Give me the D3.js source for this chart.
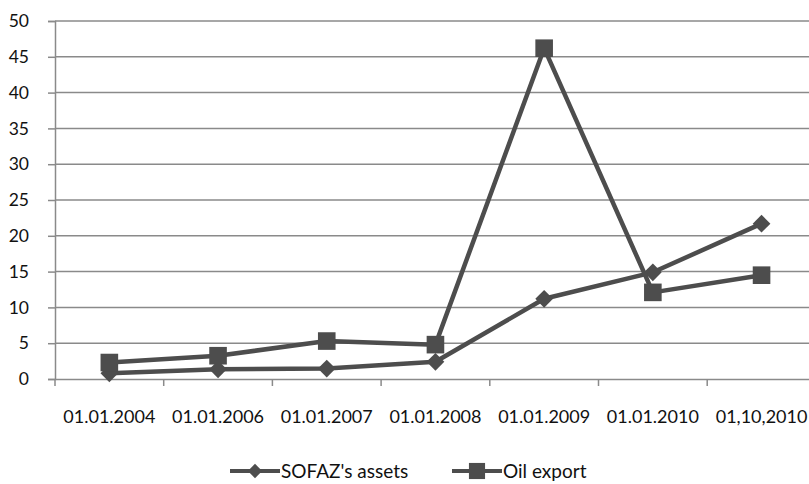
<!DOCTYPE html>
<html><head><meta charset="utf-8">
<script src="https://cdn.jsdelivr.net/npm/d3@7"></script>
<style>body{margin:0;background:#fff}svg{display:block}text{font-family:Lato,"Open Sans",sans-serif;fill:#111}</style>
</head><body><svg id="c" width="809" height="484"></svg>
<script>
const categories = ["01.01.2004","01.01.2006","01.01.2007","01.01.2008","01.01.2009","01.01.2010","01,10,2010"];
const sofazAssets = [0.8, 1.35, 1.45, 2.4, 11.2, 14.9, 21.7];
const oilExport = [2.3, 3.25, 5.3, 4.8, 46.2, 12.1, 14.5];
const yTicks = [0,5,10,15,20,25,30,35,40,45,50];
const seriesNames = ["SOFAZ's assets","Oil export"];

const svg = d3.select("#c");
const mLeft = 55, mTop = 21, mBottom = 379, bandW = 108.7;
const x = d3.scaleBand().domain(categories).range([mLeft, mLeft + bandW*categories.length]);
const y = d3.scaleLinear().domain([0,50]).range([mBottom, mTop]);
const col = "#4d4d4d", grid = "#8a8a8a";

// gridlines
svg.append("g").selectAll("line").data(yTicks.filter(d=>d>0)).join("line")
  .attr("x1", mLeft).attr("x2", 809).attr("y1", d=>y(d)).attr("y2", d=>y(d))
  .attr("stroke", grid).attr("stroke-width", 1.5);

// y axis
const ya = svg.append("g").attr("transform", `translate(${mLeft},0)`)
  .call(d3.axisLeft(y).tickValues(yTicks).tickSize(7).tickPadding(19));
ya.select(".domain").attr("stroke", grid).attr("stroke-width", 1.5);
ya.selectAll(".tick line").attr("stroke", grid).attr("stroke-width", 1.5);
ya.selectAll("text").attr("font-size", 17.5).attr("fill", "#111").attr("font-family", "Lato, sans-serif");

// x axis
const xa = svg.append("g").attr("transform", `translate(0,${mBottom})`)
  .call(d3.axisBottom(x).tickSize(0).tickPadding(31));
xa.select(".domain").attr("stroke", grid).attr("stroke-width", 1.5);
xa.selectAll("text").attr("font-size", 18).attr("fill", "#111").attr("font-family", "Lato, sans-serif");
// category separator ticks
svg.append("g").selectAll("line").data(d3.range(categories.length+1)).join("line")
  .attr("x1", i=>mLeft+i*bandW).attr("x2", i=>mLeft+i*bandW)
  .attr("y1", mBottom).attr("y2", mBottom+7)
  .attr("stroke", grid).attr("stroke-width", 1.5);

const cx = c => x(c) + x.bandwidth()/2;
const line = d3.line().x((d,i)=>cx(categories[i])).y(d=>y(d));

function drawSeries(vals, shape){
  svg.append("path").datum(vals).attr("d", line).attr("fill","none")
    .attr("stroke", col).attr("stroke-width", 4.5).attr("stroke-linejoin","round");
  const sym = shape === "diamond" ? d3.symbol().type(d3.symbolDiamond2).size(200)
                                  : d3.symbol().type(d3.symbolSquare).size(310);
  svg.append("g").selectAll("path").data(vals).join("path")
    .attr("d", sym).attr("fill", col)
    .attr("transform", (d,i)=>`translate(${cx(categories[i])},${y(d)})`);
}
drawSeries(sofazAssets, "diamond");
drawSeries(oilExport, "square");

// legend
const lg = [{x:230, name:seriesNames[0], shape:"diamond"},{x:452, name:seriesNames[1], shape:"square"}];
const ly = 471;
lg.forEach(l=>{
  svg.append("line").attr("x1", l.x).attr("x2", l.x+50).attr("y1", ly).attr("y2", ly)
    .attr("stroke", col).attr("stroke-width", 4);
  const sym = l.shape === "diamond" ? d3.symbol().type(d3.symbolDiamond2).size(130)
                                    : d3.symbol().type(d3.symbolSquare).size(260);
  svg.append("path").attr("d", sym).attr("fill", col).attr("transform", `translate(${l.x+25},${ly})`);
  svg.append("text").attr("x", l.x+51).attr("y", ly).attr("dy","0.35em")
    .attr("font-size", 19).text(l.name);
});
</script></body></html>
